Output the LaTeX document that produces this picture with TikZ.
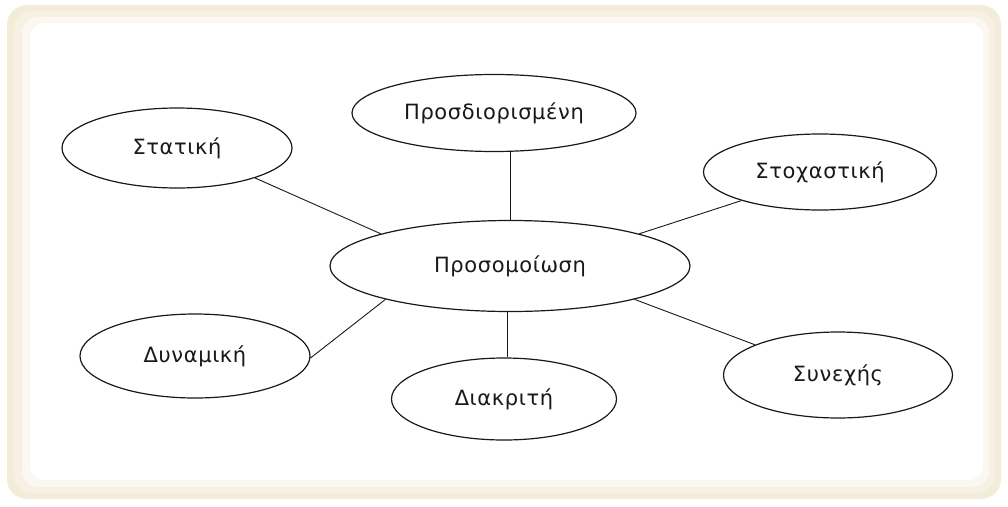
\documentclass[tikz,border=0pt]{standalone}
\usepackage{fontspec}
\setmainfont{DejaVu Sans}[LetterSpace=3]
\usetikzlibrary{shapes.geometric}
\definecolor{frameA}{RGB}{242,236,216}
\definecolor{frameB}{RGB}{246,241,227}
\definecolor{frameC}{RGB}{250,248,240}
\definecolor{ink}{RGB}{25,25,25}
\newcommand{\elltext}[1]{\raisebox{4pt}{#1}}
\tikzset{
  ell/.style={ellipse, draw=ink, line width=1.2pt, fill=white, inner sep=0pt,
    font=\fontsize{21}{24}\selectfont, text=ink},
  link/.style={draw=ink, line width=0.9pt}
}
\begin{document}
\begin{tikzpicture}[x=1pt,y=-1pt]
\useasboundingbox (0,0) rectangle (1008,506);
\fill[white] (0,0) rectangle (1008,506);
% frame
\fill[frameA, rounded corners=20pt] (7,5) rectangle (1001,499);
\fill[frameB, rounded corners=18pt] (14,11) rectangle (995,493);
\fill[frameC, rounded corners=16pt] (22,17) rectangle (989,487);
\fill[white, rounded corners=14pt] (30,23) rectangle (983,480);
% nodes
\node[ell, minimum width=360pt, minimum height=91pt] (cen) at (510,266) {\elltext{Προσομοίωση}};
\node[ell, minimum width=284pt, minimum height=77pt] (det) at (494,113) {\elltext{Προσδιορισμένη}};
\node[ell, minimum width=230pt, minimum height=80pt] (sta) at (177,148) {\elltext{Στατική}};
\node[ell, minimum width=233pt, minimum height=76pt] (sto) at (820,172) {\elltext{Στοχαστική}};
\node[ell, minimum width=230pt, minimum height=84pt] (dyn) at (195,356) {\elltext{Δυναμική}};
\node[ell, minimum width=225pt, minimum height=82pt] (dia) at (504,399) {\elltext{Διακριτή}};
\node[ell, minimum width=229pt, minimum height=86pt] (syn) at (838,375) {\elltext{Συνεχής}};
% connectors
\draw[link] (sta.339) -- (cen.166.6);
\draw[link] (sto.200) -- (cen.14.5);
\draw[link] (dyn.359.5) -- (cen.195.7);
\draw[link] (syn.160) -- (cen.345.3);
\draw[link] (cen.north) -- (cen.north |- det.south);
\draw[link] ([xshift=-3pt]cen.south) -- ([xshift=-3pt]cen.south |- dia.north);
\end{tikzpicture}
\end{document}
